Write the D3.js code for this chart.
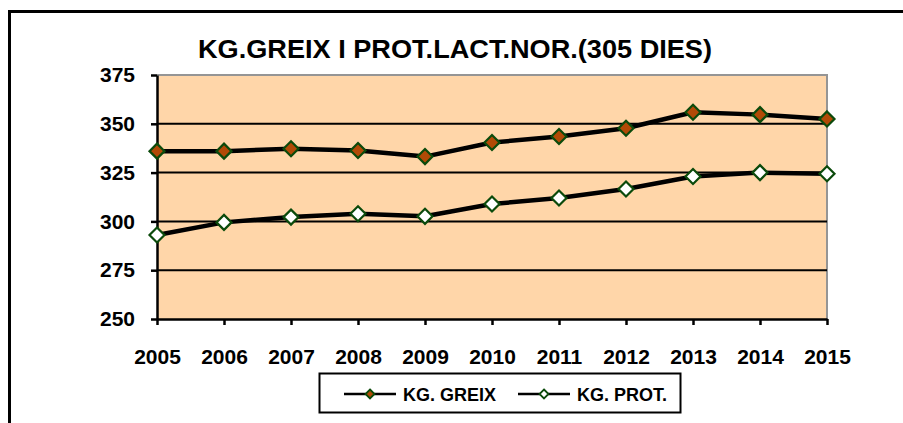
<!DOCTYPE html>
<html>
<head>
<meta charset="utf-8">
<script src="https://cdn.jsdelivr.net/npm/d3@7"></script>
<style>
  body { margin: 0; background: #fff; }
  svg { display: block; font-family: 'Liberation Sans', Arial, sans-serif; font-weight: bold; }
</style>
</head>
<body>
<div id="graph"></div>
<script>
var years = [2005, 2006, 2007, 2008, 2009, 2010, 2011, 2012, 2013, 2014, 2015]
var greix = [336, 336, 337.2, 336.3, 333.2, 340.4, 343.5, 347.7, 355.9, 354.7, 352.5]
var prot = [293, 299.5, 302.2, 303.9, 302.6, 308.9, 312, 316.6, 323, 325, 324.4]
var yTicks = [250, 275, 300, 325, 350, 375]
var seriesNames = ['KG. GREIX', 'KG. PROT.']
var title = 'KG.GREIX I PROT.LACT.NOR.(305 DIES)'

var width = 903, height = 423
var m = {left: 157, right: 76, top: 75, bottom: 104}

var svg = d3.select('#graph').append('svg')
  .attr('width', width).attr('height', height)

// outer chart frame (runs off the right and bottom)
svg.append('rect')
  .attr('x', 9.5).attr('y', 11.5)
  .attr('width', 910).attr('height', 430)
  .attr('fill', '#fff').attr('stroke', '#000').attr('stroke-width', 3)

var x = d3.scaleLinear().domain([2005, 2015]).range([m.left, width - m.right])
var y = d3.scaleLinear().domain([250, 375]).range([height - m.bottom, m.top])

// plot area
svg.append('rect')
  .attr('x', x(2005)).attr('y', y(375))
  .attr('width', x(2015) - x(2005)).attr('height', y(250) - y(375))
  .attr('fill', '#FFD6A9')

svg.append('path')
  .attr('d', 'M' + x(2005) + ',' + y(375) + 'H' + x(2015) + 'V' + y(250))
  .attr('fill', 'none').attr('stroke', '#959595').attr('stroke-width', 2)

// gridlines
svg.selectAll('line.grid').data(yTicks.filter(d => d > 250 && d < 375)).enter()
  .append('line').attr('class', 'grid')
  .attr('x1', x(2005)).attr('x2', x(2015))
  .attr('y1', d => y(d)).attr('y2', d => y(d))
  .attr('stroke', '#000').attr('stroke-width', 2)

// axes
var yAxis = svg.append('g')
  .attr('transform', 'translate(' + x(2005) + ',0)')
  .call(d3.axisLeft(y).tickValues(yTicks).tickSize(6).tickSizeOuter(0).tickPadding(16))
var xAxis = svg.append('g')
  .attr('transform', 'translate(0,' + y(250) + ')')
  .call(d3.axisBottom(x).tickValues(years).tickFormat(d3.format('d')).tickSize(6).tickSizeOuter(0).tickPadding(25))

;[yAxis, xAxis].forEach(function(g){
  g.selectAll('path.domain, line').attr('stroke', '#000').attr('stroke-width', 2.5)
  g.selectAll('text').attr('fill', '#000').style('font-size', '21px').style('font-weight', 'bold')
    .style('font-family', "'Liberation Sans', Arial, sans-serif")
})
xAxis.selectAll('text').attr('dy', '0.68em')

// lines
var line = d3.line().x((d, i) => x(years[i])).y(d => y(d))
var series = [
  {name: seriesNames[0], values: greix, fill: '#B24A06'},
  {name: seriesNames[1], values: prot, fill: '#fff'}
]

var diamond = function(r){ return 'M0,' + (-r) + 'L' + r + ',0L0,' + r + 'L' + (-r) + ',0Z' }

series.forEach(function(s){
  svg.append('path')
    .attr('d', line(s.values))
    .attr('fill', 'none').attr('stroke', '#000').attr('stroke-width', 4.5)
    .attr('stroke-linejoin', 'round')

  svg.selectAll(null).data(s.values).enter().append('path')
    .attr('d', diamond(7.5))
    .attr('transform', (d, i) => 'translate(' + x(years[i]) + ',' + y(d) + ')')
    .attr('fill', s.fill).attr('stroke', '#0B4A0B').attr('stroke-width', 2.2)
})

// title
svg.append('text')
  .attr('x', 455).attr('y', 58)
  .attr('text-anchor', 'middle')
  .attr('textLength', 514)
  .attr('lengthAdjust', 'spacingAndGlyphs')
  .style('font-size', '25px')
  .text(title)

// legend
var legend = svg.append('g')
legend.append('rect')
  .attr('x', 319.5).attr('y', 373.5).attr('width', 361).attr('height', 39)
  .attr('fill', '#fff').attr('stroke', '#000').attr('stroke-width', 2)

var legX = [344, 518]
series.forEach(function(s, i){
  var g = legend.append('g').attr('transform', 'translate(' + legX[i] + ',394)')
  g.append('line').attr('x1', 0).attr('x2', 52)
    .attr('stroke', '#000').attr('stroke-width', 2.5)
  g.append('path').attr('d', diamond(4.5))
    .attr('transform', 'translate(26,0)')
    .attr('fill', s.fill).attr('stroke', '#0B4A0B').attr('stroke-width', 1.8)
  g.append('text').attr('x', 59).attr('y', 6.5)
    .style('font-size', '18px')
    .text(s.name)
})
</script>
</body>
</html>
